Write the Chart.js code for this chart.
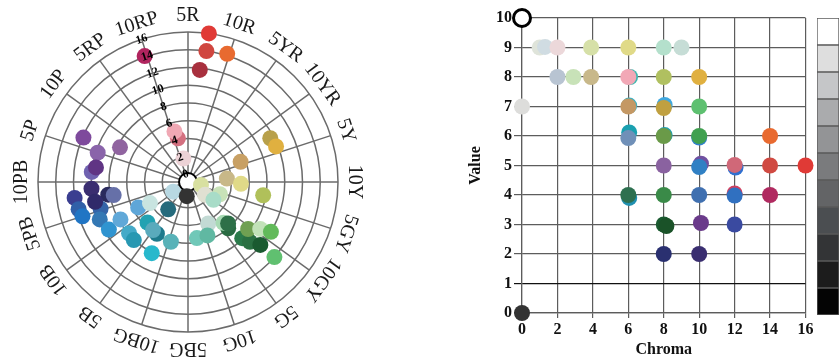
<!DOCTYPE html>
<html lang="en">
<head>
<meta charset="UTF-8">
<title>Munsell hue, chroma and value</title>
<style>
  html, body { margin: 0; padding: 0; background: #fff; }
  body { width: 839px; height: 359px; position: relative; overflow: hidden; }
  canvas { position: absolute; }
  #polar { left: 0; top: 0; }
  #grid { left: 460px; top: 0; }
  #strip { left: 817px; top: 18px; }
</style>
</head>
<body>
<canvas id="polar" width="420" height="359"></canvas>
<canvas id="grid" width="357" height="359"></canvas>
<canvas id="strip" width="22" height="297"></canvas>

<script src="https://cdn.jsdelivr.net/npm/chart.js@4.4.1/dist/chart.umd.min.js"></script>
<script>
// hue names, one every 18 degrees, starting at 10RP
const hueNames = ['10RP', '5R', '10R', '5YR', '10YR', '5Y', '10Y', '5GY', '10GY', '5G',
                  '10G', '5BG', '10BG', '5B', '10B', '5PB', '10PB', '5P', '10P', '5RP'];
const chromaTicks = [0, 2, 4, 6, 8, 10, 12, 14, 16];

// left plot: hue (degrees clockwise from 5R), chroma, colour -- paint order
const polarHue = [8, 8, 17, 6, -19, -13.5, -15, -11,
                  -67, -72, -63, -84.5, -81, -94, -99, -100, -98, -106.6, -102, -104, -108, -113,
                  -121, -119, -117, -119, -123, -144, -131, -137.5, -135, -149, -144.5, -164, -153,
                  185, 103, 127, 111, 125, 84.6, 92, 100,
                  154, 171, 160, 139, 139, 135.7, 136.4, 134, 127.5, 123.3, 120.7, 131, 131,
                  69, 62, 68];
const polarChroma = [16, 14, 14.2, 11.8, 14.1, 4.15, 5.0, 1.8,
                     11.9, 9.8, 7.7, 10, 9.6, 10, 8.2, 7.6, 12, 9.4, 9.8, 11.8, 11.6, 9.9,
                     9.5, 7.8, 5.4, 4.0, 1.1, 2.9, 7.9, 8.05, 5.55, 5.9, 5.8, 6.1, 8.1,
                     0.7, 0.6, 1.5, 2.95, 2.6, 3.5, 5.07, 7.7,
                     4.3, 5.5, 5.5, 6.0, 5.2, 5.6, 7.9, 8.8, 7.7, 8.8, 10, 9.9, 12,
                     5.45, 9.6, 9.8];
const polarColor = ['#e03a36', '#d0463f', '#e86a30', '#a8303e', '#b0245e', '#d47080', '#f0a8b4', '#ecd2d6',
                    '#7e4a9c', '#8a64aa', '#9064a0', '#7062b0', '#603484', '#3a2e70', '#2a2a5c', '#6670a8',
                    '#3a3e90', '#3464a8', '#302a6a', '#3060a8', '#2075c4', '#3478b4',
                    '#3094d0', '#60a8d8', '#5ea6d8', '#c8e4e0', '#b8d8e2', '#256a7c', '#44aac8', '#2898b2',
                    '#22a2b2', '#1e7a8c', '#5aaabc', '#58b2b8', '#28b8cc',
                    '#333333', '#d8e0a0', '#e0e0d2', '#c8e2b8', '#a8dcc8', '#c8b888', '#e0da88', '#b0c05a',
                    '#c2dad4', '#70c8b8', '#60b8a2', '#2a6a42', '#a8dab4', '#2e7048', '#2a7a4a', '#2a7042',
                    '#70a052', '#c2e2b8', '#62ba5a', '#1a5a30', '#60c070',
                    '#c8a064', '#b8a04a', '#e0b040'];

// right plot: chroma, value, colour -- paint order
const gridChroma = [1.0, 1.3, 2, 3.9, 6, 8, 9,
                    2, 2.9, 3.9, 6.1, 6, 8, 10,
                    0, 6.05, 6, 8.05, 8, 10,
                    6.05, 6, 8.05, 8, 10, 10, 14,
                    8, 10.1, 10, 12.05, 12, 14, 16,
                    6.05, 6, 8, 10, 12, 12, 14,
                    8, 8.15, 10.1, 12,
                    8, 10,
                    0, 0];
const gridValue = [9, 9.02, 9, 9, 9, 9, 9,
                   8, 8, 8, 8, 8, 8, 8,
                   7, 7.03, 7, 7.05, 6.95, 7,
                   6.12, 5.93, 6.03, 6, 5.95, 6, 6,
                   5, 5.06, 4.95, 4.93, 5.02, 5, 5,
                   3.9, 4, 4, 4, 4.05, 3.98, 4,
                   3, 2.95, 3.05, 3,
                   2, 2,
                   10, 0];
const gridColor = ['#dfe4da', '#d0dce2', '#ecd8da', '#d6e0a8', '#e0da88', '#b4e0cc', '#c6ddd6',
                   '#b8c4d2', '#c8e2b8', '#c8b88a', '#40b8b0', '#f2a8b6', '#b0c060', '#e0b040',
                   '#dddddb', '#40b0c0', '#c49864', '#40a8e0', '#c0a040', '#5ec070',
                   '#1aa0b0', '#7090b8', '#20a0b0', '#6a9a48', '#3080d0', '#40a050', '#e86a30',
                   '#8a62a0', '#7050a0', '#3080c4', '#3070d0', '#d06878', '#d04a42', '#e03a36',
                   '#2090b0', '#2e7050', '#3a8a48', '#4070b0', '#d04060', '#3070c0', '#b02a60',
                   '#1a5a30', '#1a5228', '#6a3a8a', '#3a4aa0',
                   '#2a3070', '#3a2e70',
                   '#ffffff', '#333333'];

// grey value scale, value 0 (bottom) to 10 (top)
const stripGrays = ['#040404', '#1c1c1c', '#333436', '#4b4e51', '#636466', '#7a7b7d',
                    '#939496', '#aaabad', '#c5c6c8', '#dedede', '#ffffff'];

const serif = '"Liberation Serif", "DejaVu Serif", serif';
Chart.defaults.font.family = serif;
Chart.defaults.color = '#111';

const lineGray = '#6b6b6b';

// ---- left: polar hue/chroma plot on a radial scale, one label per degree ----
const degLabels = [];
for (let i = 0; i < 360; i++) degLabels.push(i % 18 === 0 ? hueNames[i / 18] : '');

const polarSets = polarHue.map((h, k) => {
  const data = new Array(360).fill(null);
  const idx = ((Math.round(h) + 18) % 360 + 360) % 360;
  data[idx] = polarChroma[k];
  return {
    data: data,
    order: -k,
    showLine: false,
    fill: false,
    clip: false,
    pointRadius: 8,
    pointBorderWidth: 0,
    pointBackgroundColor: polarColor[k],
    borderColor: polarColor[k]
  };
});

const hueLabels = {
  id: 'hueLabels',
  afterDraw(chart) {
    const r = chart.scales.r;
    const ctx = chart.ctx;
    ctx.save();
    ctx.font = '20px ' + serif;
    ctx.fillStyle = '#1a1a1a';
    ctx.textAlign = 'center';
    ctx.textBaseline = 'middle';
    hueNames.forEach((name, k) => {
      ctx.save();
      ctx.translate(r.xCenter, r.yCenter);
      ctx.rotate(r.getIndexAngle(k * 18));
      ctx.fillText(name, 0, -(r.drawingArea + 16));
      ctx.restore();
    });
    ctx.restore();
  }
};

// white hub at chroma 0
const hub = {
  id: 'hub',
  beforeDatasetsDraw(chart) {
    const r = chart.scales.r;
    const ctx = chart.ctx;
    const rad = r.getDistanceFromCenterForValue(0) + 1;
    ctx.save();
    ctx.beginPath();
    ctx.arc(r.xCenter, r.yCenter, rad, 0, Math.PI * 2);
    ctx.fillStyle = '#fff';
    ctx.fill();
    ctx.lineWidth = 2;
    ctx.strokeStyle = '#000';
    ctx.stroke();
    ctx.restore();
  }
};

new Chart(document.getElementById('polar'), {
  type: 'radar',
  data: { labels: degLabels, datasets: polarSets },
  options: {
    responsive: false,
    animation: false,
    events: [],
    layout: { padding: { left: 32, top: 26, right: 76, bottom: 21 } },
    plugins: { legend: { display: false }, tooltip: { enabled: false } },
    scales: {
      r: {
        min: -0.9,
        max: 16,
        startAngle: 342,
        afterBuildTicks: s => { s.ticks = [{ value: -0.9 }].concat(chromaTicks.map(v => ({ value: v }))); },
        grid: { circular: true, color: lineGray, lineWidth: 1.5 },
        angleLines: {
          color: lineGray,
          lineWidth: c => (c.index % 18 === 0 ? 1.5 : 0)
        },
        pointLabels: { display: false },
        ticks: {
          z: 1,
          stepSize: 2,
          showLabelBackdrop: false,
          backdropPadding: 0,
          color: '#000',
          font: { size: 12, weight: 'bold' },
          callback: v => (v < 0 ? '' : v)
        }
      }
    }
  },
  plugins: [hub, hueLabels]
});

// ---- right: value against chroma ----
const boldFont = { size: 16, weight: 'bold' };

new Chart(document.getElementById('grid'), {
  type: 'scatter',
  data: {
    datasets: [{
      data: gridChroma.map((c, i) => ({ x: c, y: gridValue[i] })),
      clip: false,
      pointRadius: c => (gridColor[c.dataIndex] === '#ffffff' ? 8.5 : 8),
      pointBackgroundColor: gridColor,
      pointBorderColor: '#000',
      pointBorderWidth: c => (gridColor[c.dataIndex] === '#ffffff' ? 3 : 0)
    }]
  },
  options: {
    responsive: false,
    animation: false,
    events: [],
    layout: { padding: { left: 0, top: 18, right: 10, bottom: 0 } },
    plugins: { legend: { display: false }, tooltip: { enabled: false } },
    scales: {
      x: {
        type: 'linear',
        min: 0,
        max: 16,
        afterFit: s => { s.height = 46; },
        ticks: { stepSize: 2, padding: 2, maxRotation: 0, color: '#111', font: boldFont },
        grid: { color: '#5c5c5c', lineWidth: 1.2, tickLength: 5 },
        border: { color: '#5c5c5c', width: 1.2 },
        title: { display: true, text: 'Chroma', color: '#111', font: boldFont, padding: 0 }
      },
      y: {
        min: 0,
        max: 10,
        afterFit: s => { s.width = 62; },
        ticks: { stepSize: 1, padding: 2, color: '#111', font: boldFont },
        grid: {
          color: c => (c.tick && c.tick.value === 1 ? '#111' : '#5c5c5c'),
          lineWidth: 1.2,
          tickLength: 8
        },
        border: { color: '#5c5c5c', width: 1.2 },
        title: { display: true, text: 'Value', color: '#111', font: boldFont, padding: { top: 6, bottom: 0 } }
      }
    }
  }
});

// ---- grey value strip ----
new Chart(document.getElementById('strip'), {
  type: 'bar',
  data: {
    labels: ['N'],
    datasets: stripGrays.map(g => ({
      data: [1],
      backgroundColor: g,
      borderColor: '#5a5a5a',
      borderWidth: 1,
      borderSkipped: false,
      barPercentage: 1,
      categoryPercentage: 1
    }))
  },
  options: {
    responsive: false,
    animation: false,
    events: [],
    layout: { padding: 0 },
    plugins: { legend: { display: false }, tooltip: { enabled: false } },
    scales: {
      x: { display: false, stacked: true },
      y: { display: false, stacked: true, min: 0, max: stripGrays.length }
    }
  }
});
</script>
</body>
</html>
